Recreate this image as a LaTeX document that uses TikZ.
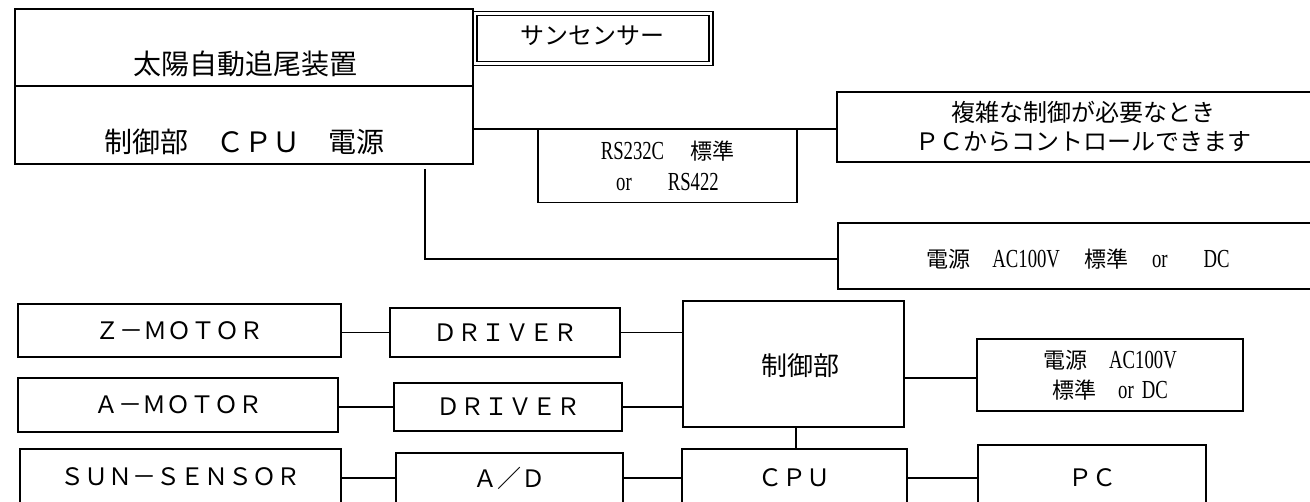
\documentclass[tikz,border=0pt]{standalone}
\usepackage{graphicx}
\usepackage{fontspec}
\setmainfont{Liberation Serif}
\newfontfamily\jp{Noto Sans CJK JP}
\newcommand{\latn}[1]{\scalebox{0.72}[1]{\rmfamily\fontsize{26}{26}\selectfont #1}}
\begin{document}
\begin{tikzpicture}[x=1pt,y=-1pt,
  box/.style={draw=black, line width=1.3pt, inner sep=0pt, rectangle, align=center},
  sz/.style 2 args={minimum width=#1pt, minimum height=#2pt},
  wire/.style={draw=black, line width=1.3pt},
  big/.style={font=\jp\fontsize{28}{30}\selectfont, inner sep=0pt},
  goth/.style={font=\jp\fontsize{24}{24}\selectfont},
  mid/.style={font=\jp\fontsize{24}{29}\selectfont},
  sml/.style={font=\jp\fontsize{22}{31}\selectfont},
  sml2/.style={font=\jp\fontsize{22}{30}\selectfont}]
\useasboundingbox (0,0) rectangle (1310,501);
\fill[white] (0,0) rectangle (1310,501);
\clip (0,0) rectangle (1310,501);

% ---- upper part ----
\node[box, sz={458}{77}] (top) at (244,47.5) {};
\node[big] (toptxt) at (245,64) {太陽自動追尾装置};
\node[box, sz={458}{78}] (ctrl) at (244,125) {};
\node[big] (ctrltxt) at (244,142) {制御部　ＣＰＵ　電源};

\node[box, sz={236}{50}, line width=1.8pt, double, double distance=2.2pt] (sun) at (593,38.5) {};
\node[font=\jp\fontsize{24}{24}\selectfont] (suntxt) at (592,36) {サンセンサー};

\node[box, sz={259}{73}, sml] (rs) at (667.5,166)
  {\latn{RS232C}\hspace{26pt}標準\\\latn{or}\hspace{36pt}\latn{RS422}};

\node[box, sz={493}{70}, mid] (comm) at (1083.5,127)
  {複雑な制御が必要なとき\\ＰＣからコントロールできます};

\node[box, sz={492}{66}] (pwr) at (1084,256) {};
\node[sml] (pwrtxt) at (1078,259)
  {電源\hspace{22pt}\latn{AC100V}\hspace{24pt}標準\hspace{24pt}\latn{or}\hspace{36pt}\latn{DC}};

\coordinate (h1) at (0,129);
\draw[wire] (ctrl.east |- h1) -- (comm.west |- h1);
\coordinate (v1) at (425,169);
\coordinate (v2) at (425,259);
\draw[wire] (v1) -- (v2) -- (v2 -| pwr.west);

% ---- lower part ----
\node[box, sz={323}{53}, goth] (zm) at (179.5,330.5) {Ｚ－ＭＯＴＯＲ};
\node[box, sz={320}{54}, goth] (am) at (178,405) {Ａ－ＭＯＴＯＲ};
\node[box, sz={321}{56}, goth] (ss) at (180.5,477) {ＳＵＮ－ＳＥＮＳＯＲ};

\node[box, sz={230}{49}, goth] (d1) at (505,332.5) {ＤＲＩＶＥＲ};
\node[box, sz={228}{48}, goth] (d2) at (508,407) {ＤＲＩＶＥＲ};
\node[box, sz={227}{50}, goth] (ad) at (509.5,478) {Ａ／Ｄ};

\node[box, sz={221}{126}] (ctl) at (793.5,364) {};
\node[font=\jp\fontsize{26}{26}\selectfont] (ctltxt) at (800,366) {制御部};
\node[box, sz={225}{58}, goth] (cpu) at (794.5,478) {ＣＰＵ};

\node[box, sz={266}{72}, sml2] (pw2) at (1110,375)
  {電源\hspace{22pt}\latn{AC100V}\\標準\hspace{22pt}\latn{or}\hspace{8pt}\latn{DC}};
\node[box, sz={228}{66}, goth] (pc) at (1092,478) {ＰＣ};

\draw[wire] (d1.west) -- (d1.west -| zm.east);
\draw[wire] (d2.west) -- (d2.west -| am.east);
\draw[wire] (ad.west) -- (ad.west -| ss.east);
\draw[wire] (d1.east) -- (d1.east -| ctl.west);
\draw[wire] (d2.east) -- (d2.east -| ctl.west);
\draw[wire] (ad.east) -- (ad.east -| cpu.west);
\draw[wire] ([yshift=-3pt]pw2.west) -- ([yshift=-3pt]pw2.west -| ctl.east);
\draw[wire] ([xshift=2.5pt]ctl.south) -- ([xshift=2.5pt]ctl.south |- cpu.north);
\draw[wire] (cpu.east) -- (cpu.east -| pc.west);
\end{tikzpicture}
\end{document}
